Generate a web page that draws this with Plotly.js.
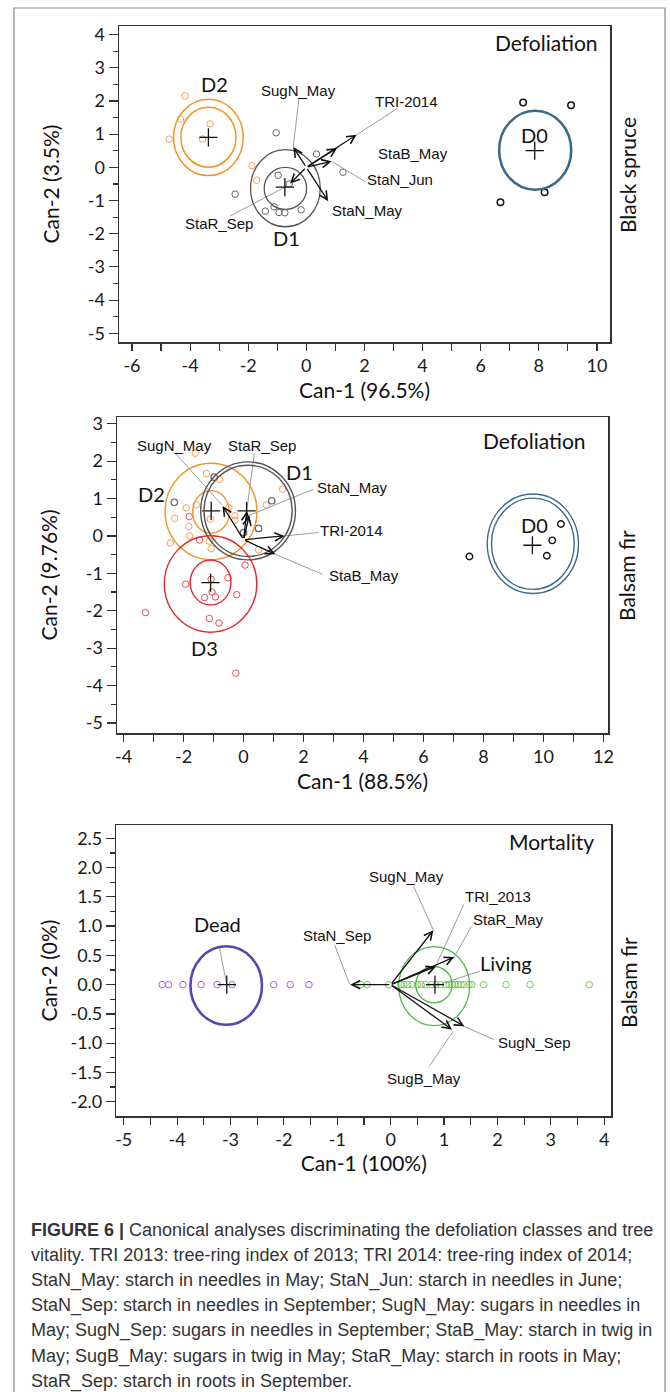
<!DOCTYPE html>
<html><head><meta charset="utf-8">
<script src="https://cdn.plot.ly/plotly-3.0.1.min.js"></script>
<style>html,body{margin:0;padding:0;background:#fff}#chart{width:670px;height:1392px}</style>
</head><body><div id="chart"></div>
<script>
// ================= Panel 1 : Black spruce, Defoliation =================
const p1_D2_x = [-4.17,-4.33,-3.31,-4.72,-3.57,-1.87,-1.71];
const p1_D2_y = [2.15,1.45,1.31,0.85,0.85,0.05,-0.39];
const p1_D1_x = [-1.04,0.35,1.26,-0.97,-0.59,-2.45,-1.41,-1.11,-0.94,-0.74,-0.18];
const p1_D1_y = [1.04,0.40,-0.15,-0.24,-0.50,-0.81,-1.32,-1.19,-1.36,-1.37,-1.28];
const p1_D0_x = [7.46,9.11,8.20,6.68];
const p1_D0_y = [1.95,1.87,-0.75,-1.05];
const p1_cent_x = [7.86,-0.74,-3.37];
const p1_cent_y = [0.50,-0.60,0.90];
const p1_class = ['D0','D1','D2'];
const p1_class_x = [7.86,-0.68,-3.17];
const p1_class_y = [0.98,-2.12,2.50];
const p1_ell_cx = [-3.37,-3.37,-0.72,-0.72,7.875];
const p1_ell_cy = [0.905,0.90,-0.635,-0.63,0.515];
const p1_ell_rx = [0.95,1.20,0.73,1.20,1.24];
const p1_ell_ry = [0.90,1.15,0.635,1.16,1.19];
const p1_ell_col = ['#F39425','#F39425','#555555','#555555','#3C6A8C'];
const p1_ell_w = [1.5,1.5,1.3,1.3,2.6];
const p1_var = ['SugN_May','StaN_May','TRI-2014','StaB_May','StaN_Jun','StaR_Sep'];
const p1_vec_x = [-0.45,0.75,1.73,1.06,0.87,-0.56];
const p1_vec_y = [0.61,-1.02,0.98,0.58,0.18,-0.49];
const p1_lab_x = [-0.28,2.10,3.45,3.68,3.22,-3.01];
const p1_lab_y = [2.30,-1.29,1.98,0.43,-0.37,-1.69];
const p1_lead_x0 = [-0.25,3.14,2.04,-2.63];
const p1_lead_y0 = [2.10,1.78,-0.44,-1.47];
const p1_lead_x1 = [-0.45,1.73,0.87,-0.70];
const p1_lead_y1 = [0.61,0.98,0.18,-0.58];
const p1_xticks = [-6,-4,-2,0,2,4,6,8,10];
const p1_yticks = [4,3,2,1,0,-1,-2,-3,-4,-5];

// ================= Panel 2 : Balsam fir, Defoliation =================
const p2_D2_x = [-1.61,-1.24,-0.80,-1.91,-1.58,-2.30,-1.83,-1.80,-2.44,-1.11,-1.08,-0.29,-0.29,-0.49,0.76,1.30,0.50,-1.14];
const p2_D2_y = [2.21,1.67,1.51,0.75,0.83,0.47,0.25,0.00,-0.19,0.45,-0.34,0.54,0.42,0.76,0.83,1.25,-0.37,-0.14];
const p2_D3_x = [-1.81,-1.47,0.05,-0.52,-1.93,-1.08,-1.05,-1.30,-0.94,-0.23,-3.27,-1.14,-0.82,-0.26];
const p2_D3_y = [0.52,-0.11,-0.78,-1.12,-1.29,-1.16,-1.50,-1.65,-1.63,-1.57,-2.05,-2.21,-2.33,-3.67];
const p2_D1_x = [-2.31,-0.98,0.94,0.50,0.00];
const p2_D1_y = [0.90,1.57,0.94,0.20,0.09];
const p2_D0_x = [7.53,10.58,10.29,10.11];
const p2_D0_y = [-0.55,0.32,-0.12,-0.53];
const p2_cent_x = [9.63,0.10,-1.08,-1.10];
const p2_cent_y = [-0.25,0.67,0.67,-1.25];
const p2_class = ['D0','D1','D2','D3'];
const p2_class_x = [9.69,1.86,-3.06,-1.31];
const p2_class_y = [0.29,1.70,1.12,-2.99];
const p2_ell_cx = [-1.085,-1.085,0.15,0.15,-1.10,-1.10,9.645,9.645];
const p2_ell_cy = [0.64,0.655,0.67,0.67,-1.245,-1.285,-0.21,-0.21];
const p2_ell_rx = [0.61,1.53,1.47,1.58,0.68,1.54,1.38,1.52];
const p2_ell_ry = [0.57,1.29,1.22,1.31,0.60,1.29,1.22,1.33];
const p2_ell_col = ['#F39425','#F39425','#555555','#555555','#E3262B','#E3262B','#3C6A8C','#3C6A8C'];
const p2_var = ['SugN_May','StaR_Sep','StaN_May','TRI-2014','StaB_May'];
const p2_orig = [0.0,-0.1];
const p2_vec_x = [-0.70,0.11,0.19,1.37,1.06];
const p2_vec_y = [0.80,0.67,0.55,0.00,-0.49];
const p2_lab_x = [-2.31,0.61,3.64,3.61,4.00];
const p2_lab_y = [2.41,2.41,1.30,0.15,-1.07];
const p2_lead_x0 = [-2.28,0.36,2.33,2.50,2.64];
const p2_lead_y0 = [2.21,2.21,1.25,0.09,-1.03];
const p2_lead_x1 = [-0.72,0.11,0.19,1.37,1.06];
const p2_lead_y1 = [0.83,0.70,0.55,0.00,-0.49];
const p2_xticks = [-4,-2,0,2,4,6,8,10,12];
const p2_yticks = [3,2,1,0,-1,-2,-3,-4,-5];

// ================= Panel 3 : Balsam fir, Mortality =================
const p3_dead_x = [-4.28,-4.16,-3.89,-3.55,-3.25,-2.97,-2.19,-1.88,-1.53];
const p3_dead_y = [0,0,0,0,0,0,0,0,0];
const p3_live_x = [-0.56,-0.44,-0.04,0.19,0.25,0.32,0.40,0.50,0.57,0.65,0.77,0.85,0.93,1.04,1.10,1.15,1.20,1.27,1.32,1.37,1.47,1.52,1.74,2.16,2.61,3.72];
const p3_live_y = [0,0,0,0,0,0,0,0,0,0,0,0,0,0,0,0,0,0,0,0,0,0,0,0,0,0];
const p3_cent_x = [-3.07,0.83];
const p3_cent_y = [0,0];
const p3_class = ['Dead','Living'];
const p3_class_x = [-3.25,2.16];
const p3_class_y = [1.03,0.37];
const p3_ell_cx = [-3.08,0.81,0.815];
const p3_ell_cy = [-0.015,0.0,-0.025];
const p3_ell_rx = [0.67,0.34,0.665];
const p3_ell_ry = [0.67,0.31,0.675];
const p3_ell_col = ['#5547B3','#4DBA45','#4DBA45'];
const p3_ell_w = [2.6,1.3,1.3];
const p3_var = ['SugN_May','TRI_2013','StaR_May','StaN_Sep','SugN_Sep','SugB_May'];
const p3_vec_x = [0.80,0.85,1.19,-0.76,1.38,1.15];
const p3_vec_y = [0.93,0.31,0.47,0.00,-0.71,-0.77];
const p3_lab_x = [0.30,2.01,2.20,-1.01,2.70,0.63];
const p3_lab_y = [1.85,1.51,1.11,0.84,-0.98,-1.60];
const p3_lead_x0 = [0.43,1.37,1.51,-1.05,1.94,0.72,-3.21,1.67];
const p3_lead_y0 = [1.68,1.37,0.99,0.68,-0.94,-1.40,0.65,0.23];
const p3_lead_x1 = [0.80,0.87,1.18,-0.77,1.34,1.17,-3.07,0.97];
const p3_lead_y1 = [0.93,0.37,0.46,0.01,-0.70,-0.80,0.00,0.02];
const p3_xticks = [-5,-4,-3,-2,-1,0,1,2,3,4];
const p3_yticks = [2.5,2.0,1.5,1.0,0.5,0.0,-0.5,-1.0,-1.5,-2.0];

// ================= Caption =================
const caption = [
 '<b>FIGURE 6 |</b> Canonical analyses discriminating the defoliation classes and tree',
 'vitality. TRI 2013: tree-ring index of 2013; TRI 2014: tree-ring index of 2014;',
 'StaN_May: starch in needles in May; StaN_Jun: starch in needles in June;',
 'StaN_Sep: starch in needles in September; SugN_May: sugars in needles in',
 'May; SugN_Sep: sugars in needles in September; StaB_May: starch in twig in',
 'May; SugB_May: sugars in twig in May; StaR_May: starch in roots in May;',
 'StaR_Sep: starch in roots in September.'
];

// ================= Build =================
const AXF = 'Lato, "Open Sans", sans-serif';
const LBF = '"Liberation Sans", Arial, Helvetica, sans-serif';
const W = 670, H = 1392;
const traces = [], shapes = [], ann = [];

function pts(x, y, color, xa, ya, lw) {
  traces.push({type:'scatter', mode:'markers', x:x, y:y, xaxis:xa, yaxis:ya, hoverinfo:'skip',
    marker:{symbol:'circle-open', size:6.5, color:color, line:{width:lw||1, color:color}}});
}
function cents(x, y, xa, ya) {
  traces.push({type:'scatter', mode:'markers', x:x, y:y, xaxis:xa, yaxis:ya, hoverinfo:'skip',
    marker:{symbol:'cross-thin', size:13, color:'#111', line:{width:1.3, color:'#111'}}});
}
function ells(cx, cy, rx, ry, col, w, xa, ya) {
  for (let i = 0; i < cx.length; i++) {
    shapes.push({type:'circle', xref:xa, yref:ya, x0:cx[i]-rx[i], x1:cx[i]+rx[i], y0:cy[i]-ry[i], y1:cy[i]+ry[i],
      line:{color:col[i], width:(w ? w[i] : 1.4)}, layer:'above'});
  }
}
function leads(x0, y0, x1, y1, xa, ya) {
  const lx = [], ly = [];
  for (let i = 0; i < x0.length; i++) { lx.push(x0[i], x1[i], null); ly.push(y0[i], y1[i], null); }
  traces.push({type:'scatter', mode:'lines', x:lx, y:ly, xaxis:xa, yaxis:ya, hoverinfo:'skip',
    line:{color:'#9c9c9c', width:1}});
}
function arrows(ox, oy, hx, hy, xa, ya) {
  for (let i = 0; i < hx.length; i++) {
    ann.push({xref:xa, yref:ya, axref:xa, ayref:ya, x:hx[i], y:hy[i], ax:ox, ay:oy, text:'',
      showarrow:true, arrowhead:5, arrowsize:1.25, arrowwidth:1.3, arrowcolor:'#111', standoff:0});
  }
}
function labels(txt, x, y, xa, ya, font, size) {
  for (let i = 0; i < txt.length; i++) {
    ann.push({xref:xa, yref:ya, x:x[i], y:y[i], text:txt[i], showarrow:false,
      xanchor:'center', yanchor:'middle', font:{family:font, size:size, color:'#111'}});
  }
}
function fmt(v, d) { return v.toFixed(d); }

// Panel 1
ells(p1_ell_cx, p1_ell_cy, p1_ell_rx, p1_ell_ry, p1_ell_col, p1_ell_w, 'x', 'y');
pts(p1_D2_x, p1_D2_y, '#F6A25A', 'x', 'y', 1);
pts(p1_D1_x, p1_D1_y, '#666666', 'x', 'y', 1);
pts(p1_D0_x, p1_D0_y, '#111111', 'x', 'y', 1.5);
leads(p1_lead_x0, p1_lead_y0, p1_lead_x1, p1_lead_y1, 'x', 'y');
cents(p1_cent_x, p1_cent_y, 'x', 'y');
arrows(0, 0, p1_vec_x, p1_vec_y, 'x', 'y');
labels(p1_var, p1_lab_x, p1_lab_y, 'x', 'y', LBF, 15);
labels(p1_class, p1_class_x, p1_class_y, 'x', 'y', AXF, 20);

// Panel 2
ells(p2_ell_cx, p2_ell_cy, p2_ell_rx, p2_ell_ry, p2_ell_col, null, 'x2', 'y2');
pts(p2_D2_x, p2_D2_y, '#F6A25A', 'x2', 'y2', 1);
pts(p2_D3_x, p2_D3_y, '#EC4A4E', 'x2', 'y2', 1);
pts(p2_D1_x, p2_D1_y, '#666666', 'x2', 'y2', 1.2);
pts(p2_D0_x, p2_D0_y, '#111111', 'x2', 'y2', 1.4);
leads(p2_lead_x0, p2_lead_y0, p2_lead_x1, p2_lead_y1, 'x2', 'y2');
cents(p2_cent_x, p2_cent_y, 'x2', 'y2');
arrows(p2_orig[0], p2_orig[1], p2_vec_x, p2_vec_y, 'x2', 'y2');
labels(p2_var, p2_lab_x, p2_lab_y, 'x2', 'y2', LBF, 15);
labels(p2_class, p2_class_x, p2_class_y, 'x2', 'y2', AXF, 20);

// Panel 3
ells(p3_ell_cx, p3_ell_cy, p3_ell_rx, p3_ell_ry, p3_ell_col, p3_ell_w, 'x3', 'y3');
pts(p3_dead_x, p3_dead_y, '#A461C9', 'x3', 'y3', 1);
pts(p3_live_x, p3_live_y, '#7CC55A', 'x3', 'y3', 1);
leads(p3_lead_x0, p3_lead_y0, p3_lead_x1, p3_lead_y1, 'x3', 'y3');
cents(p3_cent_x, p3_cent_y, 'x3', 'y3');
arrows(0, 0, p3_vec_x, p3_vec_y, 'x3', 'y3');
labels(p3_var, p3_lab_x, p3_lab_y, 'x3', 'y3', LBF, 15);
labels(p3_class, p3_class_x, p3_class_y, 'x3', 'y3', AXF, 20);

// Panel tags
function tag(text, xa, ya, x, y) {
  ann.push({xref:xa + ' domain', yref:ya + ' domain', x:x, y:y, text:text, showarrow:false,
    xanchor:'right', yanchor:'middle', font:{family:AXF, size:21, color:'#111'}});
}
tag('Defoliation', 'x', 'y', 0.98, 0.949);
tag('Defoliation', 'x2', 'y2', 0.959, 0.927);
tag('Mortality', 'x3', 'y3', 0.970, 0.942);
function side(text, px, py) {
  ann.push({xref:'paper', yref:'paper', x:px/W, y:1-py/H, text:text, showarrow:false, textangle:-90,
    xanchor:'center', yanchor:'middle', font:{family:AXF, size:21, color:'#111'}});
}
side('Black spruce', 628, 175);
side('Balsam fir', 627, 576);
side('Balsam fir', 628, 983);

// Caption
for (let i = 0; i < caption.length; i++) {
  ann.push({xref:'paper', yref:'paper', x:29/W, y:1-(1230+25.2*i)/H, text:caption[i], showarrow:false,
    xanchor:'left', yanchor:'middle', align:'left', font:{family:LBF, size:18, color:'#333'}});
}
// Outer frame
shapes.push({type:'rect', xref:'paper', yref:'paper', x0:14/W, x1:665/W, y0:-0.02, y1:1-8/H,
  line:{color:'#8a8a8a', width:1.2}, layer:'below'});

function xax(dom, rng, ticks, title, standoff, minorDt, anchor) {
  return {domain:dom, range:rng, anchor:anchor, showgrid:false, zeroline:false,
    showline:true, mirror:true, linecolor:'#333', linewidth:1.5,
    ticks:'outside', ticklen:7, tickwidth:1.2, tickcolor:'#333',
    tickmode:'array', tickvals:ticks, ticktext:ticks.map(v => String(v)),
    tickfont:{family:AXF, size:18, color:'#1a1a1a'},
    minor:{ticks:'outside', ticklen:7, tickwidth:1.2, tickcolor:'#333', dtick:minorDt, tick0:0, showgrid:false},
    title:{text:title, font:{family:AXF, size:21, color:'#111'}, standoff:standoff}};
}
function yax(dom, rng, ticks, txt, title, standoff, minorDt, anchor) {
  return {domain:dom, range:rng, anchor:anchor, showgrid:false, zeroline:false,
    showline:true, mirror:true, linecolor:'#333', linewidth:1.5,
    ticks:'outside', ticklen:9, tickwidth:1.2, tickcolor:'#333',
    tickmode:'array', tickvals:ticks, ticktext:txt,
    tickfont:{family:AXF, size:18, color:'#1a1a1a'},
    minor:{ticks:'outside', ticklen:5, tickwidth:1.2, tickcolor:'#333', dtick:minorDt, tick0:0, showgrid:false},
    title:{text:title, font:{family:AXF, size:21, color:'#111'}, standoff:standoff}};
}

const layout = {
  width:W, height:H, margin:{l:0, r:0, t:0, b:0}, paper_bgcolor:'#fff', plot_bgcolor:'#fff',
  showlegend:false,
  xaxis: xax([119/W, 610/W], [-6.447, 10.45], p1_xticks, 'Can-1 (96.5%)', 8, 1, 'y'),
  yaxis: yax([1-342/H, 1-26/H], [-5.262, 4.256], p1_yticks, p1_yticks.map(v => String(v)), 'Can-2 (3.5%)', 22, 0.5, 'x'),
  xaxis2: xax([117/W, 608/W], [-4.22, 12.15], p2_xticks, 'Can-1 (88.5%)', 8, 1, 'y2'),
  yaxis2: yax([1-733/H, 1-417/H], [-5.27, 3.18], p2_yticks, p2_yticks.map(v => String(v)), 'Can-2 (9.76%)', 22, 0.5, 'x2'),
  xaxis3: xax([116.4/W, 611/W], [-5.137, 4.127], p3_xticks, 'Can-1 (100%)', 4, 0.5, 'y3'),
  yaxis3: yax([1-1116/H, 1-825/H], [-2.244, 2.727], p3_yticks, p3_yticks.map(v => fmt(v,1)), 'Can-2 (0%)', 7, 0.25, 'x3'),
  shapes:shapes, annotations:ann
};
Plotly.newPlot('chart', traces, layout, {staticPlot:true, displayModeBar:false});
</script>
</body></html>
